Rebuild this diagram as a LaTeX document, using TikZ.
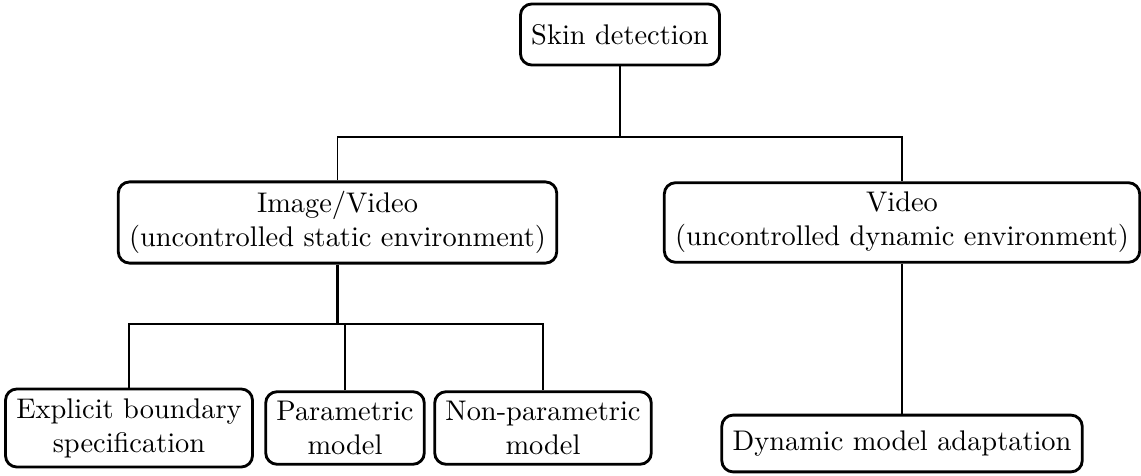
\documentclass[tikz,border=0pt]{standalone}
\usepackage{tikz}
\usepackage{amsmath}
\usepackage{xcolor}

\tikzset{
  box/.style={draw,line width=1pt,rounded corners=4pt,align=center,inner xsep=3.8pt,inner ysep=3.3pt},
  link/.style={line width=0.7pt}
}

\begin{document}
\begin{tikzpicture}[x=0.3521pt,y=-0.3521pt]
\useasboundingbox (0,0) rectangle (1141,476);
\node[box,minimum height=21.5pt] (skin) at (620,34.5) {Skin detection};
\node[box] (img) at (337.5,222.5) {Image/Video\\(uncontrolled static environment)};
\node[box] (vid) at (902,222.5) {Video\\(uncontrolled dynamic environment)};
\node[box] (ebs) at (129,428) {Explicit boundary\\specification};
\node[box] (par) at (345,428) {Parametric\\model};
\node[box] (npm) at (543,428) {Non-parametric\\model};
\node[box,minimum height=20pt] (dma) at (902,443.5) {Dynamic model adaptation};
\coordinate (top) at (620,137);
\coordinate (mid) at (337.5,324);
\draw[link] (skin.south) -- (top);
\draw[link] (img.north) |- (top) -| (vid.north);
\draw[line width=1pt] (img.south) -- (mid);
\draw[link] (ebs.north) |- (mid) -| (npm.north);
\draw[link] (par.north) -- (par.north |- mid);
\draw[link] (vid.south) -- (dma.north);
\end{tikzpicture}
\end{document}
